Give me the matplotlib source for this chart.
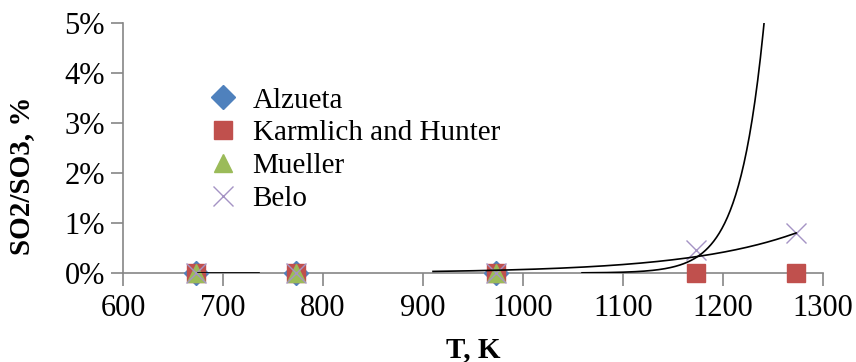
import numpy as np
import matplotlib
matplotlib.use("Agg")
import matplotlib.pyplot as plt
from matplotlib.ticker import FuncFormatter

plt.rcParams['font.family'] = ['Liberation Serif', 'DejaVu Serif']

# measured SO2 -> SO3 conversion, %
alzueta_T = [673, 773, 973]
alzueta_val = [0.0, 0.0, 0.0]
karmlich_T = [673, 773, 973, 1173, 1273]
karmlich_val = [0.0, 0.0, 0.0, 0.0, 0.0]
mueller_T = [673, 773, 973]
mueller_val = [0.0, 0.0, 0.0]
belo_T = [673, 773, 973, 1173, 1273]
belo_val = [0.0, 0.0, 0.0, 0.45, 0.80]

# exponential trend lines: value = a * exp(b * (T - T_ref))
low_trend_T = [675, 736]
low_trend_val = [0.0, 0.0]
belo_fit = dict(a=0.80, b=0.009, T_ref=1273, T_start=910, T_end=1273)
steep_fit = dict(a=5.0, b=0.041, T_ref=1241, T_start=1059, T_end=1241)

gray = '#868686'

fig = plt.figure(figsize=(8.56, 3.62), dpi=100)
ax = fig.add_axes([0.1437, 0.246, 0.8178, 0.690])

ax.plot(alzueta_T, alzueta_val, linestyle='none', marker='D', markersize=12,
        color='#4F81BD', label='Alzueta', clip_on=False, zorder=3)
ax.plot(karmlich_T, karmlich_val, linestyle='none', marker='s', markersize=13,
        color='#C0504D', label='Karmlich and Hunter', clip_on=False, zorder=4)
ax.plot(mueller_T, mueller_val, linestyle='none', marker='^', markersize=13,
        color='#9BBB59', label='Mueller', clip_on=False, zorder=5)
ax.plot(belo_T, belo_val, linestyle='none', marker='x', markersize=14,
        markeredgewidth=1.0, color='#A593C4', label='Belo', clip_on=False, zorder=6)

ax.plot(low_trend_T, low_trend_val, color='black', lw=1.2, zorder=7)
for fit in (belo_fit, steep_fit):
    T = np.linspace(fit['T_start'], fit['T_end'], 200)
    ax.plot(T, fit['a'] * np.exp(fit['b'] * (T - fit['T_ref'])),
            color='black', lw=1.2, zorder=7)

ax.set_xlim(600, 1300)
ax.set_ylim(0, 5)
ax.set_xticks(range(600, 1301, 100))
ax.set_yticks(range(0, 6))
ax.yaxis.set_major_formatter(FuncFormatter(lambda v, p: f'{v:.0f}%'))

for side in ('top', 'right'):
    ax.spines[side].set_visible(False)
for side in ('left', 'bottom'):
    ax.spines[side].set_color(gray)
    ax.spines[side].set_linewidth(1.2)
ax.tick_params(axis='both', direction='out', length=9, width=1.2, color=gray,
               labelsize=22, labelcolor='black')
ax.tick_params(axis='x', pad=6)
ax.tick_params(axis='y', pad=4)

ax.set_xlabel('T, K', fontsize=21, fontweight='bold')
ax.xaxis.set_label_coords(0.5, -0.252)
ax.set_ylabel('SO2/SO3, %', fontsize=21, fontweight='bold')
ax.yaxis.set_label_coords(-0.126, 0.39)

ax.legend(loc='upper left', bbox_to_anchor=(0.111, 0.744), frameon=False,
          fontsize=21, handletextpad=0.28, labelspacing=0.22,
          borderaxespad=0, handlelength=1.5, borderpad=0)

fig.savefig('out.png', dpi=100)
